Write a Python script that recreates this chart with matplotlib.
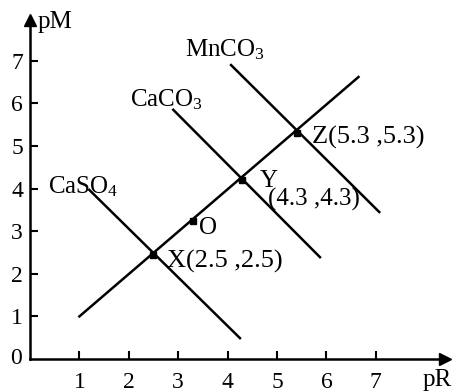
import matplotlib.pyplot as plt

# lines (pR, pM)
diag_x = [1.0, 6.65]
diag_y = [1.0, 6.62]
caso4_x = [1.2, 4.25]
caso4_y = [3.97, 0.49]
caco3_x = [2.9, 5.87]
caco3_y = [5.85, 2.39]
mnco3_x = [4.07, 7.07]
mnco3_y = [6.9, 3.45]

# marked points
pt_x = [2.5, 4.3, 5.4, 3.3]
pt_y = [2.45, 4.2, 5.3, 3.25]

ticks_x = [1, 2, 3, 4, 5, 6, 7]
ticks_y = [1, 2, 3, 4, 5, 6, 7]

plt.rcParams['font.family'] = ['Liberation Serif', 'DejaVu Serif']
plt.rcParams['mathtext.fontset'] = 'custom'
plt.rcParams['mathtext.rm'] = 'Liberation Serif'
plt.rcParams['mathtext.it'] = 'Liberation Serif:italic'

fig = plt.figure(figsize=(4.58, 3.92), dpi=100)
W, H = 458, 392
ax = fig.add_axes([30 / W, 1 - 359 / H, (445 - 30) / W, (359 - 20) / H])
ax.set_xlim(0, (445 - 30) / 49.4)
ax.set_ylim(0, (359 - 20) / 42.6)

lw = 1.8
ax.plot(diag_x, diag_y, color='black', lw=lw)
ax.plot(caso4_x, caso4_y, color='black', lw=lw)
ax.plot(caco3_x, caco3_y, color='black', lw=lw)
ax.plot(mnco3_x, mnco3_y, color='black', lw=lw)
ax.plot(pt_x, pt_y, 's', color='black', ms=4)

fs = 18
ax.text(3.14, 7.25, r"MnCO$_\mathrm{3}$", fontsize=fs, va='center', ha='left')
ax.text(2.02, 6.08, r"CaCO$_\mathrm{3}$", fontsize=fs, va='center', ha='left')
ax.text(0.36, 4.04, r"CaSO$_\mathrm{4}$", fontsize=fs, va='center', ha='left')
ax.text(5.7, 5.2, "Z(5.3 ,5.3)", fontsize=19, va='center', ha='left')
ax.text(4.65, 4.18, "Y", fontsize=fs, va='center', ha='left')
ax.text(4.82, 3.74, "(4.3 ,4.3)", fontsize=fs, va='center', ha='left')
ax.text(3.42, 3.07, "O", fontsize=fs, va='center', ha='left')
ax.text(2.78, 2.3, "X(2.5 ,2.5)", fontsize=19, va='center', ha='left')
ax.text(0.16, 7.9, "pM", fontsize=fs, va='center', ha='left', clip_on=False)
ax.text(7.95, -0.5, "pR", fontsize=fs, va='center', ha='left', clip_on=False)

for s in ['top', 'right']:
    ax.spines[s].set_visible(False)
for s in ['left', 'bottom']:
    ax.spines[s].set_linewidth(1.8)

ax.set_xticks(ticks_x)
ax.set_yticks(ticks_y)
ax.tick_params(direction='in', length=6, width=1.5, labelsize=17)
ax.tick_params(axis='x', pad=9)
ax.tick_params(axis='y', pad=5)
ax.text(-0.16, 0.0, "0", fontsize=17, va='center', ha='right')

# arrow heads on the axes
ax.plot(1, 0, '>', color='black', ms=9, transform=ax.transAxes, clip_on=False)
ax.plot(0, 1, '^', color='black', ms=9, transform=ax.transAxes, clip_on=False)

fig.savefig("out.png", dpi=100)
